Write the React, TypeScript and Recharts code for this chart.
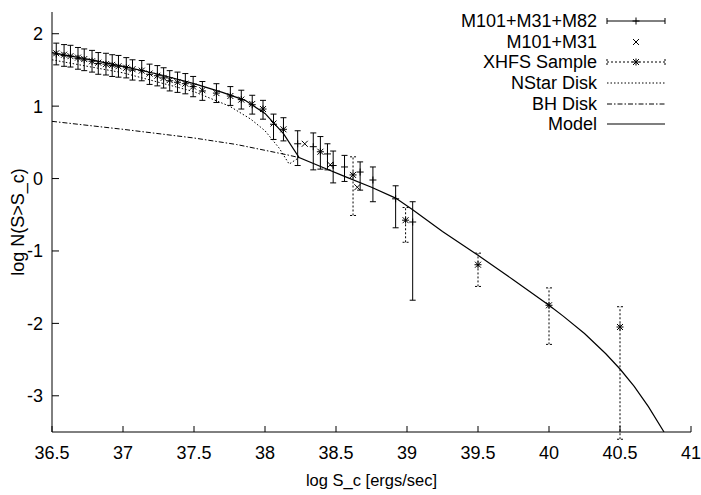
import {
  ComposedChart,
  Line,
  Scatter,
  ErrorBar,
  XAxis,
  YAxis,
  Legend,
} from 'recharts';

const FONT = '"Liberation Sans", Arial, Helvetica, sans-serif';

const X_TICKS = [36.5, 37, 37.5, 38, 38.5, 39, 39.5, 40, 40.5, 41];
const Y_TICKS = [-3, -2, -1, 0, 1, 2];

// M101+M31+M82 : points with solid error bars
const COMBINED_X = [
  36.53, 36.585, 36.63, 36.683, 36.727, 36.782, 36.826, 36.88, 36.924, 36.968, 37.023, 37.067,
  37.132, 37.187, 37.242, 37.286, 37.329, 37.384, 37.439, 37.494, 37.559, 37.658, 37.756,
  37.833, 37.91, 37.986, 38.06, 38.13, 38.23, 38.34, 38.39, 38.44, 38.48, 38.56, 38.67, 38.76,
  38.92, 39.04,
];
const COMBINED_Y = [
  1.72, 1.7, 1.69, 1.66, 1.64, 1.62, 1.59, 1.58, 1.56, 1.55, 1.53, 1.5, 1.49,
  1.44, 1.42, 1.39, 1.35, 1.33, 1.31, 1.27, 1.21, 1.18, 1.14, 1.09, 1.02, 0.96,
  0.75, 0.68, 0.48, 0.44, 0.37, 0.34, 0.18, 0.16, 0.09, -0.02, -0.28, -0.6,
];
const COMBINED_LO = [
  1.57, 1.55, 1.54, 1.51, 1.49, 1.47, 1.44, 1.43, 1.41, 1.4, 1.39, 1.36, 1.35,
  1.3, 1.28, 1.25, 1.21, 1.19, 1.17, 1.13, 1.08, 1.05, 1.01, 0.96, 0.89, 0.82,
  0.54, 0.52, 0.18, 0.12, 0.13, 0.12, -0.06, -0.04, -0.16, -0.32, -0.68, -1.68,
];
const COMBINED_HI = [
  1.87, 1.85, 1.84, 1.81, 1.79, 1.77, 1.74, 1.73, 1.71, 1.7, 1.67, 1.64, 1.63,
  1.58, 1.56, 1.53, 1.49, 1.47, 1.45, 1.41, 1.34, 1.31, 1.27, 1.22, 1.15, 1.08,
  0.89, 0.84, 0.66, 0.63, 0.58, 0.48, 0.38, 0.32, 0.23, 0.16, -0.1, -0.32,
];

// M101+M31 : crosses only
const PAIR_X = [
  36.53, 36.585, 36.63, 36.683, 36.727, 36.782, 36.826, 36.88, 36.924, 36.968, 37.023, 37.067,
  37.132, 37.187, 37.242, 37.286, 37.329, 37.384, 37.439, 37.494, 37.559, 37.658, 37.756,
  37.833, 37.91, 37.986, 38.06, 38.13, 38.28, 38.39, 38.46, 38.65,
];
const PAIR_Y = [
  1.73, 1.71, 1.69, 1.67, 1.65, 1.62, 1.6, 1.58, 1.57, 1.55, 1.53, 1.51, 1.49,
  1.45, 1.42, 1.39, 1.36, 1.33, 1.31, 1.27, 1.22, 1.18, 1.14, 1.09, 1.03, 0.96,
  0.76, 0.68, 0.48, 0.37, 0.19, -0.12,
];

// XHFS Sample : stars with dotted error bars
const XHFS_X = [38.62, 38.99, 39.5, 40.0, 40.5];
const XHFS_Y = [0.05, -0.575, -1.19, -1.75, -2.05];
const XHFS_LO = [-0.51, -0.88, -1.49, -2.29, -3.6];
const XHFS_HI = [0.3, -0.4, -1.03, -1.51, -1.77];

const MODEL_X = [
  36.5, 36.75, 37.0, 37.25, 37.5, 37.7, 37.86, 38.0, 38.13, 38.24, 38.4, 38.56, 38.75, 38.92,
  39.04, 39.25, 39.5, 39.75, 40.0, 40.1, 40.25, 40.4, 40.5, 40.6, 40.7, 40.81,
];
const MODEL_Y = [
  1.74, 1.65, 1.55, 1.44, 1.31, 1.19, 1.08, 0.9, 0.62, 0.29, 0.16, 0.03, -0.12, -0.27,
  -0.43, -0.73, -1.06, -1.4, -1.75, -1.9, -2.14, -2.42, -2.63, -2.87, -3.15, -3.5,
];

const NSTAR_X = [36.5, 37.0, 37.5, 37.75, 37.9, 38.0, 38.1, 38.17, 38.24];
const NSTAR_Y = [1.64, 1.46, 1.2, 1.0, 0.82, 0.66, 0.42, 0.2, 0.29];

const BH_X = [36.5, 37.0, 37.5, 37.8, 38.0, 38.15, 38.24];
const BH_Y = [0.79, 0.68, 0.56, 0.47, 0.39, 0.33, 0.29];

const SERIES_NAMES = ['M101+M31+M82', 'M101+M31', 'XHFS Sample', 'NStar Disk', 'BH Disk', 'Model'];

const DOTTED = '1.5 2';
const DASH_DOT = '5 2 1.5 2';

const toPoints = (xs: number[], ys: number[]) => xs.map((x, i) => ({ x, y: ys[i] }));
const withErr = (xs: number[], ys: number[], lo: number[], hi: number[]) =>
  xs.map((x, i) => ({ x, y: ys[i], err: [ys[i] - lo[i], hi[i] - ys[i]] }));

const combinedData = withErr(COMBINED_X, COMBINED_Y, COMBINED_LO, COMBINED_HI);
const pairData = toPoints(PAIR_X, PAIR_Y);
const xhfsData = withErr(XHFS_X, XHFS_Y, XHFS_LO, XHFS_HI);
const modelData = toPoints(MODEL_X, MODEL_Y);
const nstarData = toPoints(NSTAR_X, NSTAR_Y);
const bhData = toPoints(BH_X, BH_Y);

const plusPath = (cx: number, cy: number, r: number) =>
  `M${cx - r} ${cy}H${cx + r}M${cx} ${cy - r}V${cy + r}`;
const crossPath = (cx: number, cy: number, r: number) =>
  `M${cx - r} ${cy - r}L${cx + r} ${cy + r}M${cx - r} ${cy + r}L${cx + r} ${cy - r}`;

function PlusMark(props: any) {
  const { cx, cy } = props;
  return <path d={plusPath(cx, cy, 3.5)} stroke="#000" fill="none" />;
}

function CrossMark(props: any) {
  const { cx, cy } = props;
  return <path d={crossPath(cx, cy, 3)} stroke="#000" fill="none" />;
}

function StarMark(props: any) {
  const { cx, cy } = props;
  return <path d={plusPath(cx, cy, 3.5) + crossPath(cx, cy, 3)} stroke="#000" fill="none" />;
}

function legendSample(i: number) {
  const y = 6;
  switch (i) {
    case 0:
      return (
        <g stroke="#000" fill="none">
          <path d={`M1 ${y}H59M1 ${y - 3}V${y + 3}M59 ${y - 3}V${y + 3}`} />
          <path d={plusPath(30, y, 3.5)} />
        </g>
      );
    case 1:
      return <path d={crossPath(30, y, 3)} stroke="#000" fill="none" />;
    case 2:
      return (
        <g stroke="#000" fill="none">
          <path d={`M1 ${y}H59M1 ${y - 3}V${y + 3}M59 ${y - 3}V${y + 3}`} strokeDasharray="2 2" />
          <path d={plusPath(30, y, 3.5) + crossPath(30, y, 3)} />
        </g>
      );
    case 3:
      return <path d={`M1 ${y}H59`} stroke="#000" strokeDasharray={DOTTED} />;
    case 4:
      return <path d={`M1 ${y}H59`} stroke="#000" strokeDasharray={DASH_DOT} />;
    default:
      return <path d={`M1 ${y}H59`} stroke="#000" strokeWidth={1.2} />;
  }
}

function LegendBox() {
  return (
    <div style={{ fontFamily: FONT, fontSize: 18, color: '#000' }}>
      {SERIES_NAMES.map((name, i) => (
        <div
          key={name}
          style={{
            display: 'flex',
            justifyContent: 'flex-end',
            alignItems: 'center',
            height: 20.6,
          }}
        >
          <span style={{ lineHeight: 1 }}>{name}</span>
          <svg width={60} height={12} style={{ marginLeft: 9 }}>
            {legendSample(i)}
          </svg>
        </div>
      ))}
    </div>
  );
}

export default function App() {
  const tickStyle = { fill: '#000', fontSize: 18, fontFamily: FONT };
  return (
    <div style={{ position: 'absolute', left: 0, top: 0, background: '#fff' }}>
      <ComposedChart width={701} height={495} margin={{ top: 12, right: 10, bottom: 0, left: 0 }}>
        <XAxis
          dataKey="x"
          type="number"
          domain={[36.5, 41]}
          ticks={X_TICKS}
          interval={0}
          allowDataOverflow
          height={63}
          tickSize={-6}
          tickMargin={20}
          stroke="#000"
          tick={tickStyle}
          label={{
            value: 'log S_c [ergs/sec]',
            position: 'insideBottom',
            offset: 9,
            fill: '#000',
            fontSize: 16.5,
            fontFamily: FONT,
          }}
        />
        <XAxis
          xAxisId="top"
          orientation="top"
          type="number"
          domain={[36.5, 41]}
          ticks={X_TICKS}
          interval={0}
          height={0}
          tickSize={-6}
          tick={false}
          stroke="#000"
        />
        <YAxis
          type="number"
          domain={[-3.5, 2.3]}
          ticks={Y_TICKS}
          interval={0}
          allowDataOverflow
          width={52}
          tickSize={-7}
          tickMargin={16}
          stroke="#000"
          tick={tickStyle}
          label={{
            value: 'log N(S>S_c)',
            angle: -90,
            position: 'center',
            dx: -8,
            fill: '#000',
            fontSize: 18,
            fontFamily: FONT,
          }}
        />
        <YAxis
          yAxisId="right"
          orientation="right"
          type="number"
          domain={[-3.5, 2.3]}
          ticks={Y_TICKS}
          interval={0}
          width={0}
          tickSize={-7}
          tick={false}
          stroke="#000"
        />
        <Legend
          layout="vertical"
          align="center"
          verticalAlign="middle"
          content={() => <LegendBox />}
          wrapperStyle={{ top: 11, left: 366, width: 300 }}
        />
        <Line
          data={bhData}
          dataKey="y"
          type="linear"
          dot={false}
          stroke="#000"
          strokeWidth={1}
          strokeDasharray={DASH_DOT}
          isAnimationActive={false}
        />
        <Line
          data={nstarData}
          dataKey="y"
          type="linear"
          dot={false}
          stroke="#000"
          strokeWidth={1}
          strokeDasharray={DOTTED}
          isAnimationActive={false}
        />
        <Line
          data={modelData}
          dataKey="y"
          type="linear"
          dot={false}
          stroke="#000"
          strokeWidth={1.2}
          isAnimationActive={false}
        />
        <Scatter data={xhfsData} dataKey="y" shape={StarMark} isAnimationActive={false}>
          <ErrorBar
            dataKey="err"
            direction="y"
            width={3}
            stroke="#000"
            strokeWidth={1}
            strokeDasharray="2 2"
            isAnimationActive={false}
          />
        </Scatter>
        <Scatter data={combinedData} dataKey="y" shape={PlusMark} isAnimationActive={false}>
          <ErrorBar
            dataKey="err"
            direction="y"
            width={3}
            stroke="#000"
            strokeWidth={1}
            isAnimationActive={false}
          />
        </Scatter>
        <Scatter data={pairData} dataKey="y" shape={CrossMark} isAnimationActive={false} />
      </ComposedChart>
    </div>
  );
}
